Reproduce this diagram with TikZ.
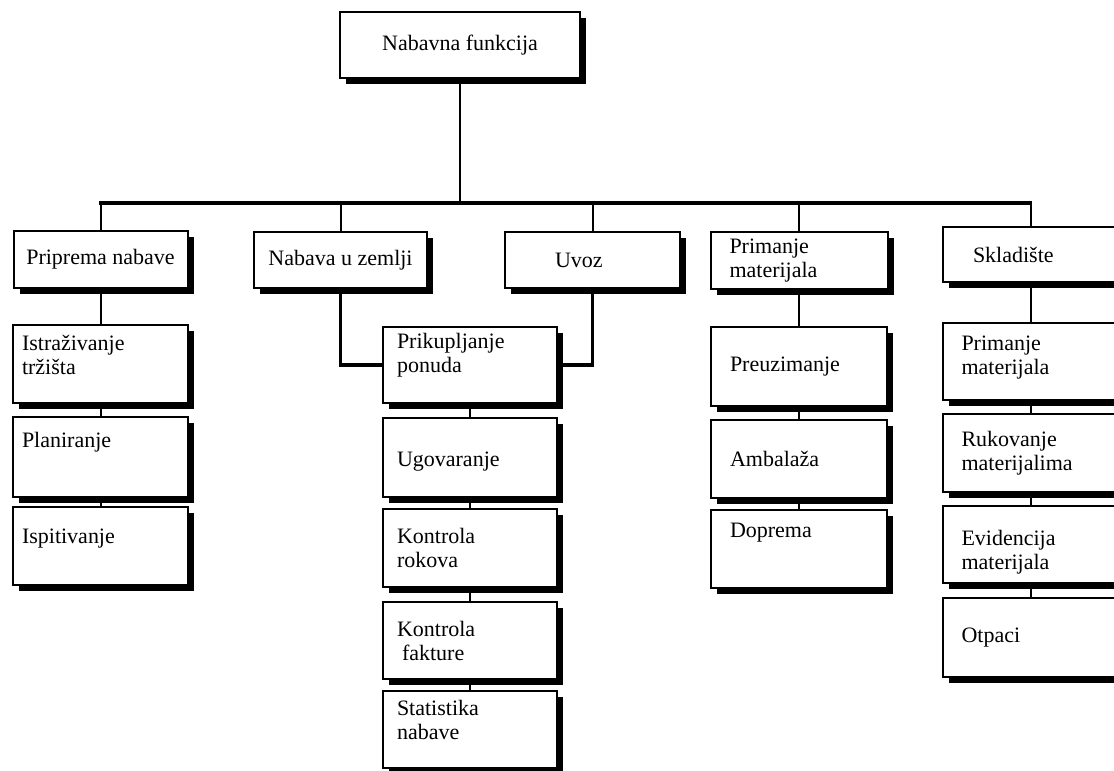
\documentclass[tikz,border=0pt]{standalone}
\usepackage{fontspec}
\setmainfont{Liberation Serif}
\usetikzlibrary{shadows}

\tikzset{
  blok/.style={draw, line width=2pt, fill=white, inner ysep=0pt,
    drop shadow={shadow xshift=6pt, shadow yshift=-6pt, fill=black, opacity=1}},
  lijevi/.style={blok, minimum height=78pt, align=left, inner xsep=9pt, text width=157pt},
  srednji/.style={blok, minimum height=78pt, align=left, inner xsep=14pt, text width=146pt},
  desni/.style={blok, minimum height=78pt, align=left, inner xsep=19pt, text width=138pt},
  veza/.style={line width=2pt},
  sabirnica/.style={line width=3.2pt}
}

\begin{document}
\begin{tikzpicture}[x=1pt, y=-1pt, every node/.style={font=\fontsize{22}{24}\selectfont}]
    \useasboundingbox (0,0) rectangle (1114,771);
    % vrh
    \node[blok, minimum width=240pt, minimum height=66pt] (nab) at (460,45) {Nabavna funkcija};
    % prva razina
    \node[blok, minimum width=174pt, minimum height=57pt] (prip) at (100.5,259) {Priprema nabave};
    \node[blok, minimum width=173pt, minimum height=56pt] (nzem) at (340.5,260) {Nabava u zemlji};
    \node[blok, minimum height=56pt, align=left, inner xsep=50pt, text width=75pt] (uvoz) at (592.5,260) {Uvoz};
    \node[desni, minimum height=57pt, text width=139pt] (prim) at (799,260.5) {Primanje\\materijala};
    \node[blok, minimum height=55pt, align=left, inner xsep=30pt, text width=115pt] (skl) at (1030.5,254.5) {Skladište};
    % druga razina
    \node[lijevi, text depth=42pt] (istr) at (100.5,364) {Istraživanje\\tržišta};
    \node[lijevi, minimum height=80pt, text depth=34pt] (plan) at (100.5,457) {Planiranje};
    \node[lijevi, text depth=20pt] (isp) at (100.5,546) {Ispitivanje};

    \node[srednji, minimum height=76pt, text depth=48pt] (prik) at (470,365) {Prikupljanje\\ponuda};
    \node[srednji, minimum height=79pt, text height=22pt] (ugov) at (470,457.5) {Ugovaranje};
    \node[srednji] (krok) at (470,548) {Kontrola\\rokova};
    \node[srednji, minimum height=77pt] (kfak) at (470,640.5) {Kontrola\\\hspace*{5pt}fakture};
    \node[srednji, minimum height=77pt, text depth=43pt] (stat) at (470,729.5) {Statistika\\nabave};

    \node[desni, minimum height=79pt] (preu) at (799,366.5) {Preuzimanje};
    \node[desni] (amb) at (799,459) {Ambalaža};
    \node[desni, text depth=38pt] (dop) at (799,549) {Doprema};

    \node[desni, minimum height=77pt, text depth=37pt] (primS) at (1030.5,361.5) {Primanje\\materijala};
    \node[desni] (ruk) at (1030.5,453) {Rukovanje\\materijalima};
    \node[desni, minimum height=77pt, text depth=13pt] (evid) at (1030.5,544.5) {Evidencija\\materijala};
    \node[desni, minimum height=79pt] (otp) at (1030.5,637.5) {Otpaci};

    % veze
    \coordinate (busL) at (100.5,203);
    \coordinate (busR) at (1030.5,203);
    \draw[sabirnica, line cap=rect] (busL) -- (busR);
    \draw[veza] (nab) -- (nab |- busL);
    \draw[veza] (busL) -- (prip);
    \draw[veza] (nzem |- busL) -- (nzem);
    \draw[veza] (uvoz |- busL) -- (uvoz);
    \draw[veza] (prim |- busL) -- (prim);
    \draw[veza] (busR) -- (skl);
    \draw[sabirnica] (nzem.south) |- (prik.west);
    \draw[sabirnica] (uvoz.south) |- (prik.east);

    \draw[veza] (prip) -- (istr);
    \draw[veza] (istr) -- (plan);
    \draw[veza] (plan) -- (isp);
    \draw[veza] (prik) -- (ugov);
    \draw[veza] (ugov) -- (krok);
    \draw[veza] (krok) -- (kfak);
    \draw[veza] (kfak) -- (stat);
    \draw[veza] (prim) -- (preu);
    \draw[veza] (preu) -- (amb);
    \draw[veza] (amb) -- (dop);
    \draw[veza] (skl) -- (primS);
    \draw[veza] (primS) -- (ruk);
    \draw[veza] (ruk) -- (evid);
    \draw[veza] (evid) -- (otp);
\end{tikzpicture}
\end{document}
